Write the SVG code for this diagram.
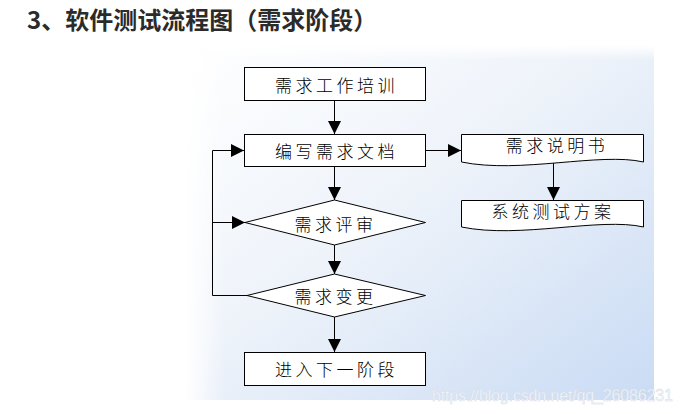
<svg xmlns="http://www.w3.org/2000/svg" width="683" height="414" viewBox="0 0 683 414">
<defs>
<linearGradient id="bg" x1="0" y1="0" x2="1" y2="1">
<stop offset="0" stop-color="#ffffff"/>
<stop offset="0.45" stop-color="#eef3fa"/>
<stop offset="1" stop-color="#c9dbf4"/>
</linearGradient>
<linearGradient id="fadeL" x1="0" y1="0" x2="1" y2="0">
<stop offset="0" stop-color="#ffffff" stop-opacity="1"/>
<stop offset="1" stop-color="#ffffff" stop-opacity="0"/>
</linearGradient>
<linearGradient id="fadeT" x1="0" y1="0" x2="0" y2="1">
<stop offset="0" stop-color="#ffffff" stop-opacity="1"/>
<stop offset="1" stop-color="#ffffff" stop-opacity="0"/>
</linearGradient>
<marker id="arr" markerUnits="userSpaceOnUse" markerWidth="14" markerHeight="14" refX="13" refY="6.5" orient="auto">
<path d="M0,0 L13,6.5 L0,13 Z" fill="#000"/>
</marker>
<style>
.t{font-family:"Noto Sans CJK SC","Noto Sans",sans-serif;font-size:17px;font-weight:300;letter-spacing:3.5px;fill:#000;text-anchor:middle;dominant-baseline:central}
.s{fill:#fff;stroke:#000;stroke-width:1}
.c{fill:none;stroke:#000;stroke-width:1}
</style>
</defs>
<rect width="683" height="414" fill="#fff"/>
<rect x="185" y="45" width="469" height="355" fill="url(#bg)"/>
<rect x="185" y="45" width="40" height="355" fill="url(#fadeL)"/>
<rect x="185" y="45" width="469" height="15" fill="url(#fadeT)"/>
<text x="27" y="29" font-family="'Noto Sans CJK SC','Noto Sans',sans-serif" font-size="24" font-weight="bold" fill="#2b2b2b">3、软件测试流程图（需求阶段）</text>
<g id="connectors">
<line class="c" x1="334.5" y1="100" x2="334.5" y2="134" marker-end="url(#arr)"/>
<line class="c" x1="334.5" y1="166" x2="334.5" y2="200" marker-end="url(#arr)"/>
<line class="c" x1="334.5" y1="245" x2="334.5" y2="274" marker-end="url(#arr)"/>
<line class="c" x1="334.5" y1="317" x2="334.5" y2="352" marker-end="url(#arr)"/>
<line class="c" x1="425" y1="150.5" x2="461" y2="150.5" marker-end="url(#arr)"/>
<line class="c" x1="553.5" y1="162" x2="553.5" y2="200" marker-end="url(#arr)"/>
<polyline class="c" points="247,295.5 212.5,295.5 212.5,150.5 244,150.5" marker-end="url(#arr)"/>
<line class="c" x1="212.5" y1="222.5" x2="245" y2="222.5" marker-end="url(#arr)"/>
</g>
<g id="n1"><rect class="s" x="244.5" y="67.5" width="181" height="33"/><text class="t" x="336.5" y="84">需求工作培训</text></g>
<g id="n2"><rect class="s" x="244.5" y="134.5" width="181" height="32"/><text class="t" x="336.5" y="150">编写需求文档</text></g>
<g id="n3"><polygon class="s" points="245,222.5 334.5,200 425.5,222.5 334.5,245"/><text class="t" x="335.5" y="223">需求评审</text></g>
<g id="n4"><polygon class="s" points="247,295.5 334.5,274 425.5,295.5 334.5,317"/><text class="t" x="335.5" y="295">需求变更</text></g>
<g id="n5"><rect class="s" x="244.5" y="352.5" width="181" height="33"/><text class="t" x="336.5" y="368">进入下一阶段</text></g>
<g id="n6"><path class="s" d="M461.5,134.5 H643.5 V162 C600,152 520,174 461.5,162 Z"/><text class="t" x="557" y="144">需求说明书</text></g>
<g id="n7"><path class="s" d="M461.5,200.5 H643.5 V227 C600,217 520,239 461.5,227 Z"/><text class="t" x="553" y="210">系统测试方案</text></g>
<text x="432" y="401" font-family="'Liberation Sans',Arial,sans-serif" font-size="16" fill="#f6f8fc" stroke="#d3d9e3" stroke-width="0.4" textLength="241">https://blog.csdn.net/qq_26086231</text>
</svg>
